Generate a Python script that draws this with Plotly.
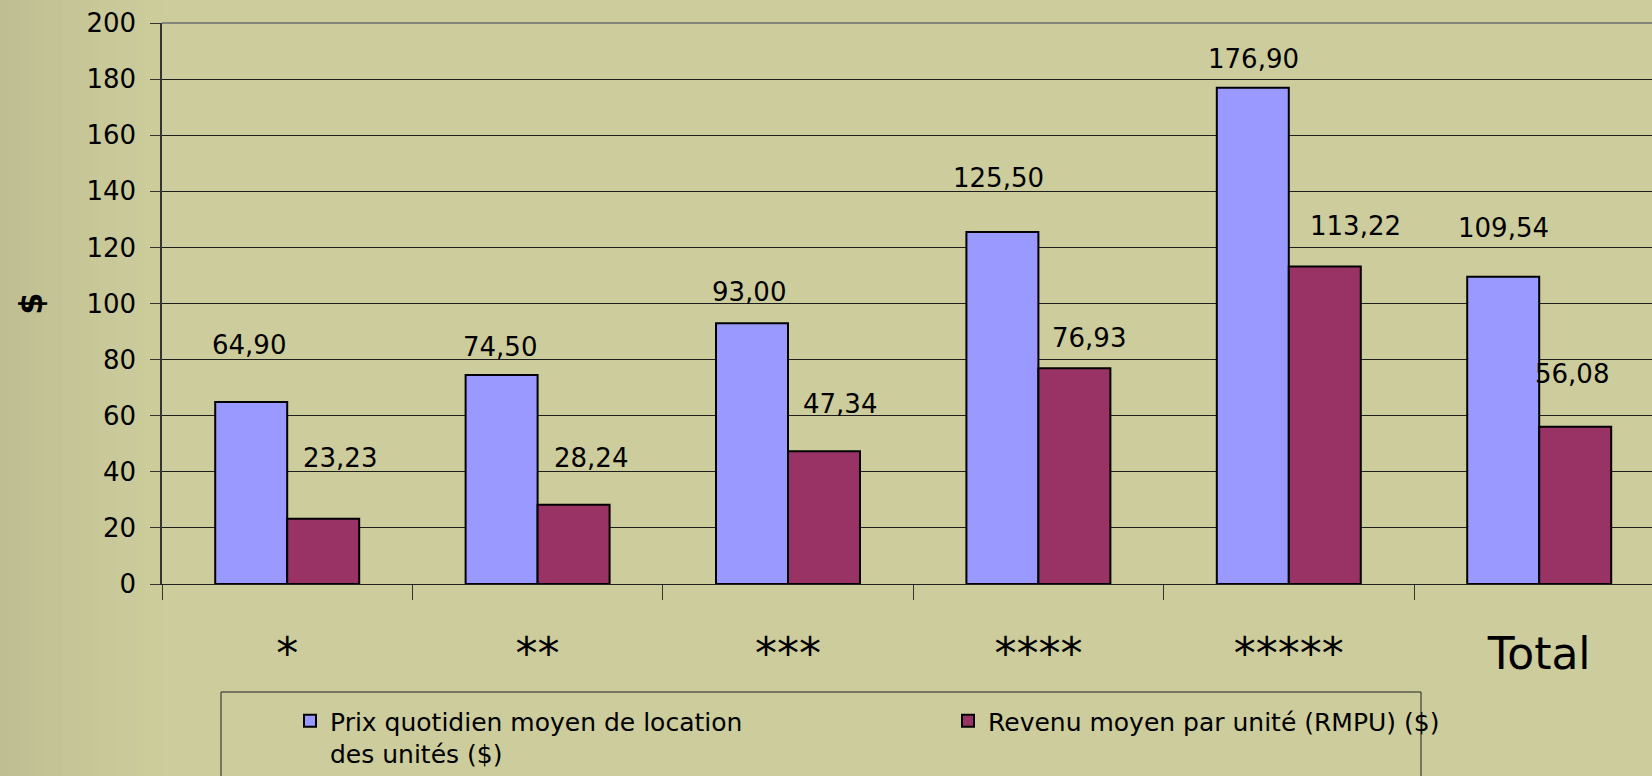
import plotly.graph_objects as go

# ---- data ----
categories = ["*", "**", "***", "****", "*****", "Total"]
prix_moyen = [64.90, 74.50, 93.00, 125.50, 176.90, 109.54]
rmpu = [23.23, 28.24, 47.34, 76.93, 113.22, 56.08]
y_ticks = [0, 20, 40, 60, 80, 100, 120, 140, 160, 180, 200]
name_prix = "Prix quotidien moyen de location<br>des unités ($)"
name_rmpu = "Revenu moyen par unité (RMPU) ($)"

# ---- layout tweaks (pixel offsets of the hand-placed value labels) ----
prix_dx = [-2, -2, -3, -4, 1, 0]
prix_dy = [57, 28, 31, 54, 29, 49]
rmpu_dx = [17, 17, 16, 15, 31, -3]
rmpu_dy = [61, 47, 47, 30, 40, 53]

BG = "#CCCC9C"
W, H = 1652, 776
ML, MR, MT, MB = 162, 0, 23, 192
PW = W - ML - MR
PH = H - MT - MB
HALF_BAR = 36
WIDE = "DejaVu Sans, Verdana, sans-serif"


def fmt(v):
    return f"{v:.2f}".replace(".", ",")


fig = go.Figure()
fig.add_trace(go.Bar(
    x=categories, y=prix_moyen, name=name_prix,
    marker=dict(color="#9999FF", line=dict(color="#000000", width=2)),
    hoverinfo="y",
))
fig.add_trace(go.Bar(
    x=categories, y=rmpu, name=name_rmpu,
    marker=dict(color="#993366", line=dict(color="#000000", width=2)),
    hoverinfo="y",
))

annotations = []
lab_font = dict(family=WIDE, size=26, color="#000000")
for i, c in enumerate(categories):
    annotations.append(dict(
        x=c, y=prix_moyen[i], xref="x", yref="y", text=fmt(prix_moyen[i]),
        showarrow=False, xanchor="center", yanchor="middle",
        xshift=-HALF_BAR + prix_dx[i], yshift=prix_dy[i], font=lab_font,
    ))
    annotations.append(dict(
        x=c, y=rmpu[i], xref="x", yref="y", text=fmt(rmpu[i]),
        showarrow=False, xanchor="center", yanchor="middle",
        xshift=HALF_BAR + rmpu_dx[i], yshift=rmpu_dy[i], font=lab_font,
    ))


def px_x(px):
    return (px - ML) / PW


def px_y(py):
    return (H - MB - py) / PH


shapes = []
# soft darker strip on the left edge (background texture)
n = 18
for k in range(n):
    shapes.append(dict(
        type="rect", xref="paper", yref="paper", layer="below",
        x0=px_x(k * 9), x1=px_x((k + 1) * 9), y0=px_y(H), y1=px_y(0),
        fillcolor="#8E8E74", opacity=0.22 * (1 - k / n) ** 1.3, line=dict(width=0),
    ))
# top border of plot area
shapes.append(dict(type="line", xref="paper", yref="paper", x0=0, x1=1, y0=1, y1=1,
                   line=dict(color="#85857A", width=2)))
# legend frame
shapes.append(dict(type="rect", xref="paper", yref="paper",
                   x0=px_x(221), x1=px_x(1421), y0=px_y(H + 40), y1=px_y(692),
                   line=dict(color="#222222", width=1), fillcolor="rgba(0,0,0,0)"))

fig.update_layout(
    width=W, height=H,
    margin=dict(l=ML, r=MR, t=MT, b=MB, autoexpand=False),
    paper_bgcolor=BG, plot_bgcolor=BG,
    barmode="group", bargap=0.425, bargroupgap=0,
    font=dict(family=WIDE, color="#000000"),
    showlegend=True,
    legend=dict(
        orientation="h", x=px_x(290), y=px_y(698), xanchor="left", yanchor="top",
        bgcolor="rgba(0,0,0,0)", borderwidth=0, valign="top",
        font=dict(family=WIDE, size=25, color="#000000"),
        entrywidth=613, traceorder="normal", tracegroupgap=0,
    ),
    annotations=annotations,
    shapes=shapes,
    xaxis=dict(
        type="category", range=[-0.5, -0.5 + PW / 250.4],
        tickson="boundaries", ticks="outside", ticklen=15, tickwidth=1, tickcolor="#333333",
        showline=True, linecolor="#222222", linewidth=1,
        showgrid=False, zeroline=False,
        tickfont=dict(family=WIDE, size=44, color="#000000"),
        ticklabelstandoff=31,
    ),
    yaxis=dict(
        range=[0, 200], tickmode="array", tickvals=y_ticks,
        ticktext=[str(t) for t in y_ticks],
        ticks="outside", ticklen=10, tickwidth=1, tickcolor="#333333",
        showline=True, linecolor="#333333", linewidth=1.5,
        showgrid=True, gridcolor="#1E1E1E", gridwidth=1, zeroline=False,
        tickfont=dict(family=WIDE, size=26, color="#000000"),
        ticklabelstandoff=9,
        title=dict(text="<b>$</b>", font=dict(family=WIDE, size=32, color="#000000"),
                   standoff=34),
    ),
)

fig.write_html(
    "out.html",
    config={"displayModeBar": False},
    post_script="document.body.style.margin='0';document.body.style.padding='0';"
                "document.body.style.overflow='hidden';",
)
